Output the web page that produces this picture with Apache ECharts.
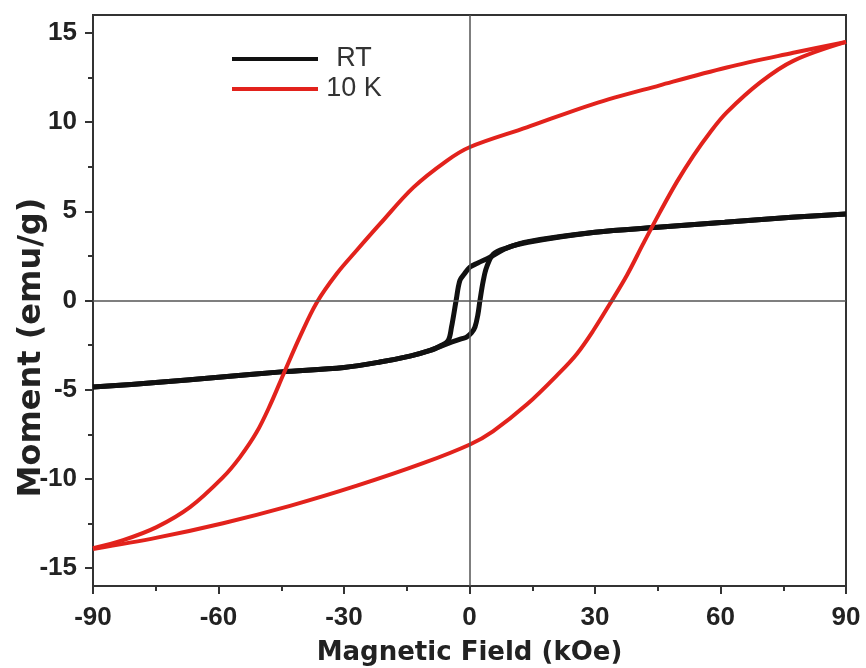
<!DOCTYPE html>
<html>
<head>
<meta charset="utf-8">
<script src="https://cdn.jsdelivr.net/npm/echarts@6/dist/echarts.min.js"></script>
<style>
html,body{margin:0;padding:0;background:#fff;}
#chart{width:866px;height:668px;}
</style>
</head>
<body>
<div id="chart"></div>
<script>
// ---- data ----
const seriesNames = ['RT', '10 K'];

// RT loop: descending field branch (+90 -> -90)
const rtDownField  = [90, 77, 61, 45, 30, 14, 9, 4.9, 2, 0.1, -1.2, -2.3, -3.2, -4.3, -5.1, -7, -9.4, -14, -21.4, -30, -45, -60, -75, -90];
const rtDownMoment = [4.85, 4.66, 4.38, 4.1, 3.82, 3.26, 2.95, 2.42, 2.1, 1.87, 1.5, 1.12, 0, -1.49, -2.24, -2.55, -2.8, -3.1, -3.45, -3.75, -4.0, -4.3, -4.6, -4.85];
// RT loop: ascending field branch (-90 -> +90)
const rtUpField  = [-90, -75, -60, -45, -30, -21.4, -14, -9.4, -5.1, -2, -0.7, 0.5, 1.3, 2, 2.5, 3.3, 4.1, 5.7, 9, 14, 30, 45, 61, 77, 90];
const rtUpMoment = [-4.85, -4.6, -4.3, -4.0, -3.75, -3.45, -3.1, -2.8, -2.4, -2.15, -2.05, -1.8, -1.49, -0.8, 0, 1.12, 1.87, 2.6, 2.95, 3.3, 3.82, 4.1, 4.38, 4.66, 4.85];

// 10 K loop: descending field branch (+90 -> -90)
const k10DownField  = [90, 77.4, 61.5, 45.5, 29.6, 13.7, 0, -5.45, -13.4, -21.4, -27, -31.7, -36.5, -40.5, -44.4, -47.7, -50.9, -54.9, -58.9, -66.8, -74.8, -82.8, -90];
const k10DownMoment = [14.49, 13.88, 13.06, 12.06, 11.01, 9.7, 8.59, 7.83, 6.34, 4.29, 2.8, 1.51, -0.11, -2.01, -4.09, -5.88, -7.39, -8.79, -9.9, -11.58, -12.7, -13.43, -13.88];
// 10 K loop: ascending field branch (-90 -> +90)
const k10UpField  = [-90, -74.7, -58.9, -42.9, -26.9, -11.1, 0.1, 5.6, 13.75, 21.6, 25.7, 29.6, 33.6, 37.6, 41.5, 45.5, 49.5, 53.5, 57.5, 61.5, 69.5, 77.4, 90];
const k10UpMoment = [-13.93, -13.29, -12.48, -11.51, -10.38, -9.12, -8.07, -7.33, -5.82, -4.03, -2.98, -1.68, -0.17, 1.4, 3.17, 4.94, 6.62, 8.11, 9.42, 10.54, 12.22, 13.43, 14.49];

// axis ticks
const xTicks = [-90, -60, -30, 0, 30, 60, 90];
const yTicks = [-15, -10, -5, 0, 5, 10, 15];
const yMinorTicks = [-12.5, -7.5, -2.5, 2.5, 7.5, 12.5];

// ---- build ----
const zip = (xs, ys) => xs.map((x, i) => [x, ys[i]]);
const BLACK = '#111111';
const RED = '#e2221c';

function lineSeries(name, color, width, data, extra) {
  return Object.assign({
    name: name,
    type: 'line',
    data: data,
    smooth: 0.35,
    showSymbol: false,
    symbol: 'none',
    color: color,
    lineStyle: { color: color, width: width },
    animation: false
  }, extra || {});
}

const chart = echarts.init(document.getElementById('chart'), null, { renderer: 'canvas' });
chart.setOption({
  backgroundColor: '#ffffff',
  animation: false,
  grid: { left: 93, right: 20, top: 15, bottom: 82, outerBoundsMode: 'none', containLabel: false,
          show: true, borderColor: '#333', borderWidth: 2, backgroundColor: 'transparent' },
  legend: {
    data: seriesNames,
    orient: 'vertical',
    left: 227,
    top: 40,
    icon: 'rect',
    itemWidth: 86,
    itemHeight: 4,
    itemGap: 2,
    formatter: n => '{c|' + n + '}',
    textStyle: {
      fontFamily: 'Liberation Sans, Arial',
      fontSize: 27,
      color: '#333',
      lineHeight: 28,
      rich: { c: { width: 62, align: 'center', fontFamily: 'Liberation Sans, Arial', fontSize: 27, color: '#333', lineHeight: 28 } }
    }
  },
  xAxis: {
    type: 'value',
    min: -90, max: 90, interval: 30,
    name: 'Magnetic Field (kOe)',
    nameLocation: 'middle',
    nameGap: 54,
    nameMoveOverlap: false,
    nameTextStyle: { fontFamily: 'DejaVu Sans', fontWeight: 'bold', fontSize: 26, color: '#222' },
    axisLine: { show: true, onZero: false, lineStyle: { color: '#333', width: 2 } },
    axisTick: { show: true, inside: false, length: 8, lineStyle: { color: '#333', width: 2 } },
    minorTick: { show: true, splitNumber: 2, length: 5, lineStyle: { color: '#333', width: 2 } },
    axisLabel: { margin: 19, fontFamily: 'Liberation Sans, Arial', fontWeight: 'bold', fontSize: 26, color: '#222',
                 customValues: xTicks },
    splitLine: { show: false }
  },
  yAxis: [{
    type: 'value',
    min: -16, max: 16,
    name: 'Moment (emu/g)',
    nameLocation: 'middle',
    nameRotate: 90,
    nameGap: 45,
    nameMoveOverlap: false,
    nameTextStyle: { fontFamily: 'DejaVu Sans', fontWeight: 'bold', fontSize: 32, color: '#222', padding: [0, 94, 0, 0] },
    axisLine: { show: true, onZero: false, lineStyle: { color: '#333', width: 2 } },
    axisTick: { show: true, inside: false, length: 8, customValues: yTicks, lineStyle: { color: '#333', width: 2 } },
    axisLabel: { margin: 16, fontFamily: 'Liberation Sans, Arial', fontWeight: 'bold', fontSize: 26, color: '#222',
                 customValues: yTicks },
    splitLine: { show: false }
  }, {
    type: 'value',
    min: -16, max: 16,
    position: 'left',
    offset: 0,
    axisLine: { show: false, onZero: false },
    axisTick: { show: true, inside: false, length: 5, customValues: yMinorTicks, lineStyle: { color: '#333', width: 2 } },
    axisLabel: { show: false },
    splitLine: { show: false }
  }],
  series: [
    lineSeries(seriesNames[0], BLACK, 5, zip(rtDownField, rtDownMoment), {
      markLine: {
        silent: true,
        symbol: ['none', 'none'],
        label: { show: false },
        lineStyle: { color: '#555', width: 1.5, type: 'solid' },
        animation: false,
        data: [{ xAxis: 0 }, { yAxis: 0 }]
      },
      z: 2
    }),
    lineSeries(seriesNames[0], BLACK, 5, zip(rtUpField, rtUpMoment), { z: 2 }),
    lineSeries(seriesNames[1], RED, 4, zip(k10DownField, k10DownMoment), { z: 3 }),
    lineSeries(seriesNames[1], RED, 4, zip(k10UpField, k10UpMoment), { z: 3 })
  ]
});
</script>
</body>
</html>
